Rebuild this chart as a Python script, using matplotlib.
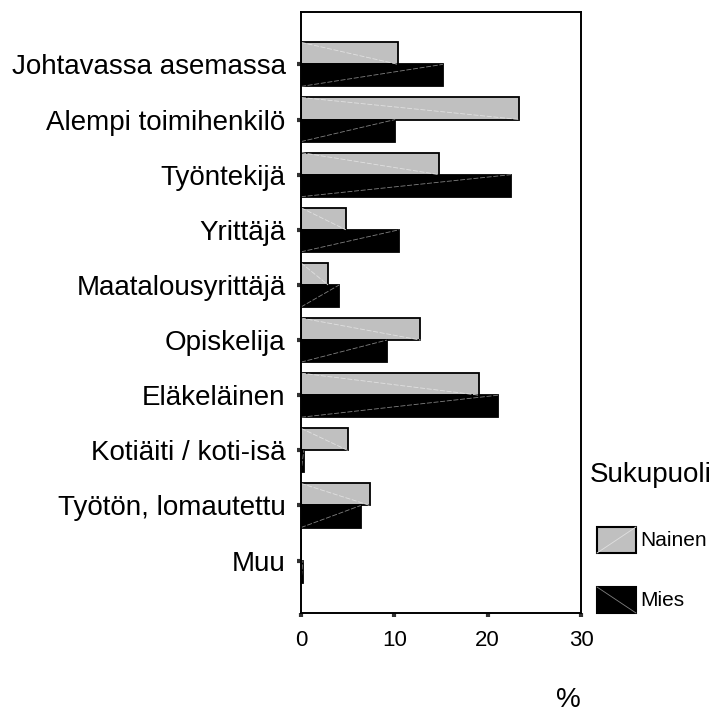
import numpy as np
import matplotlib
matplotlib.use("Agg")
import matplotlib.pyplot as plt
from matplotlib.patches import Rectangle
from matplotlib.lines import Line2D

plt.rcParams['font.family'] = ['Liberation Sans', 'DejaVu Sans']

categories = ["Johtavassa asemassa", "Alempi toimihenkilö", "Työntekijä",
              "Yrittäjä", "Maatalousyrittäjä", "Opiskelija", "Eläkeläinen",
              "Kotiäiti / koti-isä", "Työtön, lomautettu", "Muu"]
nainen = [10.4, 23.4, 14.8, 4.8, 2.9, 12.8, 19.1, 5.0, 7.4, 0.0]
mies = [15.2, 10.1, 22.5, 10.5, 4.1, 9.2, 21.1, 0.3, 6.4, 0.2]
xticks = [0, 10, 20, 30]
series_names = ["Nainen", "Mies"]
legend_title = "Sukupuoli"

W, H = 714, 713
fig = plt.figure(figsize=(W / 100, H / 100), dpi=100)
ax = fig.add_axes([301 / W, 1 - 613 / H, 280 / W, 601 / H])

y = np.arange(len(categories))
h = 0.4
ax.barh(y - h / 2, nainen, height=h, color='#c0c0c0', edgecolor='black', linewidth=1.3)
ax.barh(y + h / 2, mies, height=h, color='black', edgecolor='black', linewidth=1.3)

# faint diagonal texture lines inside the bars
for i in range(len(categories)):
    if nainen[i] > 0:
        ax.plot([0, nainen[i]], [y[i] - h, y[i]], color='#e0e0e0', lw=0.6, ls=(0, (6, 2)))
    if mies[i] > 0:
        ax.plot([0, mies[i]], [y[i] + h, y[i]], color='#808080', lw=0.6, ls=(0, (6, 2)))

ax.set_xlim(0, 30)
ax.set_ylim(9.95, -0.95)
ax.set_xticks(xticks)
ax.set_yticks(y)
ax.set_yticklabels(categories, fontsize=20, va='center_baseline')
ax.tick_params(axis='x', labelsize=16, length=3, width=3, color='#333333', pad=9)
ax.tick_params(axis='y', length=3, width=3, color='#333333', pad=8)
for s in ax.spines.values():
    s.set_linewidth(1.4)

# legend drawn by hand at the right
def fx(px):
    return px / W

def fy(py):
    return 1 - py / H

fig.text(fx(590), fy(475), legend_title, fontsize=20, va='center', ha='left')
colors = ['#c0c0c0', 'black']
diag = ['#e0e0e0', '#808080']
tops = [527, 587]
for name, c, dc, t in zip(series_names, colors, diag, tops):
    fig.add_artist(Rectangle((fx(597), fy(t + 26)), 39 / W, 26 / H, transform=fig.transFigure,
                             facecolor=c, edgecolor='black', linewidth=1.5))
    if c == 'black':
        fig.add_artist(Line2D([fx(597), fx(636)], [fy(t), fy(t + 26)], transform=fig.transFigure,
                              color=dc, lw=0.6))
    else:
        fig.add_artist(Line2D([fx(597), fx(636)], [fy(t + 26), fy(t)], transform=fig.transFigure,
                              color=dc, lw=0.6))
    fig.text(fx(640), fy(t + 14), name, fontsize=15, va='center', ha='left')

fig.text(fx(568), fy(700), '%', fontsize=20, ha='center', va='center')

plt.savefig("out.png", dpi=100)
